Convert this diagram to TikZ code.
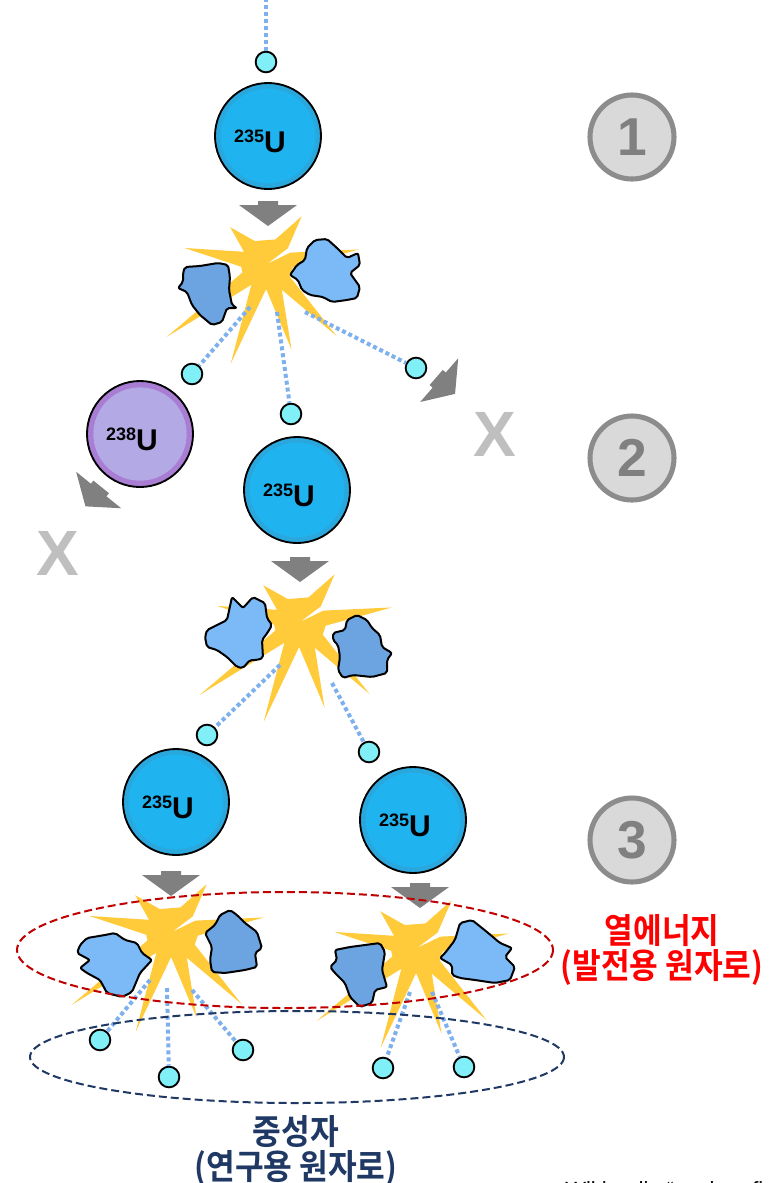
\documentclass[tikz,border=0pt]{standalone}
\usepackage{fontspec}
\setmainfont{Liberation Sans}
\newfontfamily\krfont{Noto Sans CJK KR Bold}[FakeStretch=0.9]

\definecolor{burstyellow}{HTML}{FFCB3A}
\definecolor{fraglight}{HTML}{7BB9F7}
\definecolor{fragdark}{HTML}{6CA4E2}
\definecolor{neutroncyan}{HTML}{80EFF8}
\definecolor{trailblue}{HTML}{7FB0EE}
\definecolor{uranrim}{HTML}{2AA8DE}
\definecolor{uranfill}{HTML}{1FB4F0}
\definecolor{urimviolet}{HTML}{A87DD3}
\definecolor{ufillviolet}{HTML}{B3A9E4}
\definecolor{arrowgrey}{HTML}{808080}
\definecolor{crossgrey}{HTML}{BFBFBF}
\definecolor{markfill}{HTML}{D9D9D9}
\definecolor{markring}{HTML}{8C8C8C}
\definecolor{heatred}{HTML}{C00000}
\definecolor{navyblue}{HTML}{1F3864}

% isotope label: small mass number, big U
\newcommand{\iso}[1]{\raisebox{7.5pt}{\fontsize{13.5}{14}\selectfont\bfseries #1}{\fontsize{22.5}{24}\selectfont\bfseries U}\hspace*{12pt}}

% yellow flash of a split nucleus
\newcommand{\flash}[2]{%
  \begin{scope}[shift={(#1,#2)}]
    \fill[burstyellow] (0,0) foreach \a/\r in {-54/59,-135/52,-169/84,144/124,110/106,74/89,46/100,-9/93}
      { -- (\a+17:26) -- (\a:\r) -- (\a-17:26) } -- cycle;
  \end{scope}}

% grey push arrow, #3 = rotation
\newcommand{\pusharrow}[3]{%
  \fill[arrowgrey, shift={(#1,#2)}, rotate=#3]
    (-13,-10) -- (-9,-10) -- (-9,-29) -- (12,0) -- (-9,29) -- (-9,10) -- (-13,10) -- cycle;}

\begin{document}
\begin{tikzpicture}[x=0.75pt, y=-0.75pt,
    neutron/.style={circle, draw=black, line width=1.4pt, fill=neutroncyan, minimum size=15.5pt, inner sep=0pt},
    u235/.style={circle, draw=black, line width=1.4pt, fill=uranrim, minimum size=79.5pt, inner sep=0pt,
      text height=24pt, text depth=0pt,
      path picture={\fill[uranfill] (path picture bounding box.center) circle (35.5pt);}},
    u238/.style={u235, fill=urimviolet,
      path picture={\fill[ufillviolet] (path picture bounding box.center) circle (35pt);}},
    trail/.style={trailblue, line width=3pt, dash pattern=on 3pt off 2.2pt},
    fragment/.style={draw=black, line width=1.5pt, rounded corners=1.5pt, line join=round},
    stepmark/.style={circle, draw=markring, line width=3.8pt, fill=markfill, minimum size=63pt, inner sep=0pt,
      text=arrowgrey, font=\fontsize{40}{40}\selectfont\bfseries},
    cross/.style={text=crossgrey, inner sep=0pt, font=\fontsize{48}{48}\selectfont\bfseries},
    ring/.style={dashed, line width=1.5pt, dash pattern=on 6pt off 3pt},
    caption/.style={font=\krfont\fontsize{26}{26}\selectfont, inner sep=0pt}]

  \useasboundingbox[fill=white] (0,0) rectangle (776,1183);

  % push arrows
  \pusharrow{268}{214}{-90}
  \pusharrow{300}{570}{-90}
  \pusharrow{171}{884}{-90}
  \pusharrow{420}{896}{-90}
  \pusharrow{446}{386}{-41}
  \pusharrow{93}{497}{-129}

  % nuclei
  \node[u235] (u1) at (268,136) {\iso{235}};
  \node[u238] (u2) at (140,434) {\iso{238}};
  \node[u235] (u3) at (297,490) {\iso{235}};
  \node[u235] (u4) at (176,802) {\iso{235}};
  \node[u235] (u5) at (413,820) {\iso{235}};

  % flashes
  \flash{267}{264}
  \flash{300}{622}
  \flash{172}{932}
  \flash{417}{948}

  % fragments
  \filldraw[fragment, fill=fragdark] (185,267) -- (200,266) -- (218,263) -- (228,265) -- (230,277) -- (229,290)
    -- (232,305) -- (237,308) -- (227,308) -- (222,322) -- (212,325) -- (200,315) -- (192,305) -- (187,292)
    -- (178,288) -- (183,282) -- (183,273) -- cycle;
  \filldraw[fragment, fill=fraglight] (307,248) -- (315,240) -- (327,239) -- (337,248) -- (347,258) -- (358,253)
    -- (360,265) -- (350,273) -- (360,287) -- (357,298) -- (347,300) -- (332,302) -- (323,297) -- (310,295)
    -- (302,290) -- (298,280) -- (290,275) -- (297,265) -- (305,260) -- cycle;
  \filldraw[fragment, fill=fraglight] (207,630) -- (217,625) -- (227,620) -- (232,597) -- (243,608) -- (253,597)
    -- (265,603) -- (267,618) -- (272,625) -- (268,632) -- (262,640) -- (263,658) -- (257,660) -- (250,660)
    -- (243,668) -- (237,667) -- (227,657) -- (217,650) -- (207,647) -- (205,637) -- cycle;
  \filldraw[fragment, fill=fragdark] (333,633) -- (345,630) -- (347,620) -- (357,615) -- (367,620) -- (372,628)
    -- (380,635) -- (382,647) -- (392,653) -- (387,660) -- (387,673) -- (372,677) -- (353,675) -- (343,678)
    -- (338,670) -- (340,657) -- (338,645) -- (333,640) -- cycle;
  \filldraw[fragment, fill=fraglight] (80,945) -- (87,938) -- (105,935) -- (115,933) -- (125,940) -- (137,943)
    -- (142,953) -- (152,960) -- (140,973) -- (132,992) -- (122,997) -- (107,993) -- (100,980) -- (87,973)
    -- (80,968) -- (90,960) -- (77,953) -- cycle;
  \filldraw[fragment, fill=fragdark] (220,915) -- (230,910) -- (237,915) -- (245,923) -- (257,932) -- (262,948)
    -- (255,953) -- (257,967) -- (245,970) -- (225,973) -- (212,972) -- (210,960) -- (212,947) -- (205,933)
    -- (215,925) -- cycle;
  \filldraw[fragment, fill=fragdark] (335,950) -- (350,947) -- (365,945) -- (380,943) -- (385,952) -- (382,970)
    -- (387,987) -- (375,990) -- (372,1003) -- (360,1007) -- (350,997) -- (345,983) -- (335,973) -- (330,967)
    -- (337,960) -- cycle;
  \filldraw[fragment, fill=fraglight] (445,953) -- (455,940) -- (460,923) -- (472,920) -- (487,932) -- (500,943)
    -- (512,948) -- (505,957) -- (515,967) -- (510,980) -- (495,983) -- (475,980) -- (460,978) -- (452,975)
    -- (452,965) -- (440,958) -- cycle;

  % neutrons
  \node[neutron] (n0) at (266,62) {};
  \node[neutron] (n1) at (192,374) {};
  \node[neutron] (n2) at (291,414) {};
  \node[neutron] (n3) at (416,368) {};
  \node[neutron] (n4) at (207,735) {};
  \node[neutron] (n5) at (369,752) {};
  \node[neutron] (n6) at (100,1040) {};
  \node[neutron] (n7) at (169,1077) {};
  \node[neutron] (n8) at (243,1050) {};
  \node[neutron] (n9) at (383,1068) {};
  \node[neutron] (n10) at (464,1067) {};

  % where the trails leave each flash
  \coordinate (t0) at (266,-2);
  \coordinate (t1) at (250,307);
  \coordinate (t2) at (277,312);
  \coordinate (t3) at (305,312);
  \coordinate (t4) at (280,665);
  \coordinate (t5) at (332,683);
  \coordinate (t6) at (150,980);
  \coordinate (t7) at (167,988);
  \coordinate (t8) at (192,990);
  \coordinate (t9) at (410,992);
  \coordinate (t10) at (432,992);

  \draw[trail] (t0) -- (n0);
  \draw[trail] (t1) -- (n1);
  \draw[trail] (t2) -- (n2);
  \draw[trail] (t3) -- (n3);
  \draw[trail] (t4) -- (n4);
  \draw[trail] (t5) -- (n5);
  \draw[trail] (t6) -- (n6);
  \draw[trail] (t7) -- (n7);
  \draw[trail] (t8) -- (n8);
  \draw[trail] (t9) -- (n9);
  \draw[trail] (t10) -- (n10);

  % lost neutrons
  \node[cross] (x1) at (495,434) {X};
  \node[cross] (x2) at (58,553) {X};

  % generations
  \node[stepmark] (s1) at (632,137) {1};
  \node[stepmark] (s2) at (632,458) {2};
  \node[stepmark] (s3) at (632,840) {3};

  % output groups
  \draw[ring, heatred] (285,950) ellipse [x radius=268, y radius=58];
  \draw[ring, navyblue] (297,1057) ellipse [x radius=267, y radius=46];

  \node[caption, text=red] (heat) at (662,931) {열에너지};
  \node[caption, text=red] (heatuse) at (662,967) {(발전용 원자로)};
  \node[caption, text=navyblue] (flux) at (296,1132) {중성자};
  \node[caption, text=navyblue] (fluxuse) at (296,1168) {(연구용 원자로)};

  \node[anchor=base west, inner sep=0pt, font=\fontsize{16.5}{18}\selectfont] (src) at (565,1197) {Wikipedia “nuclear fission”};
\end{tikzpicture}
\end{document}
